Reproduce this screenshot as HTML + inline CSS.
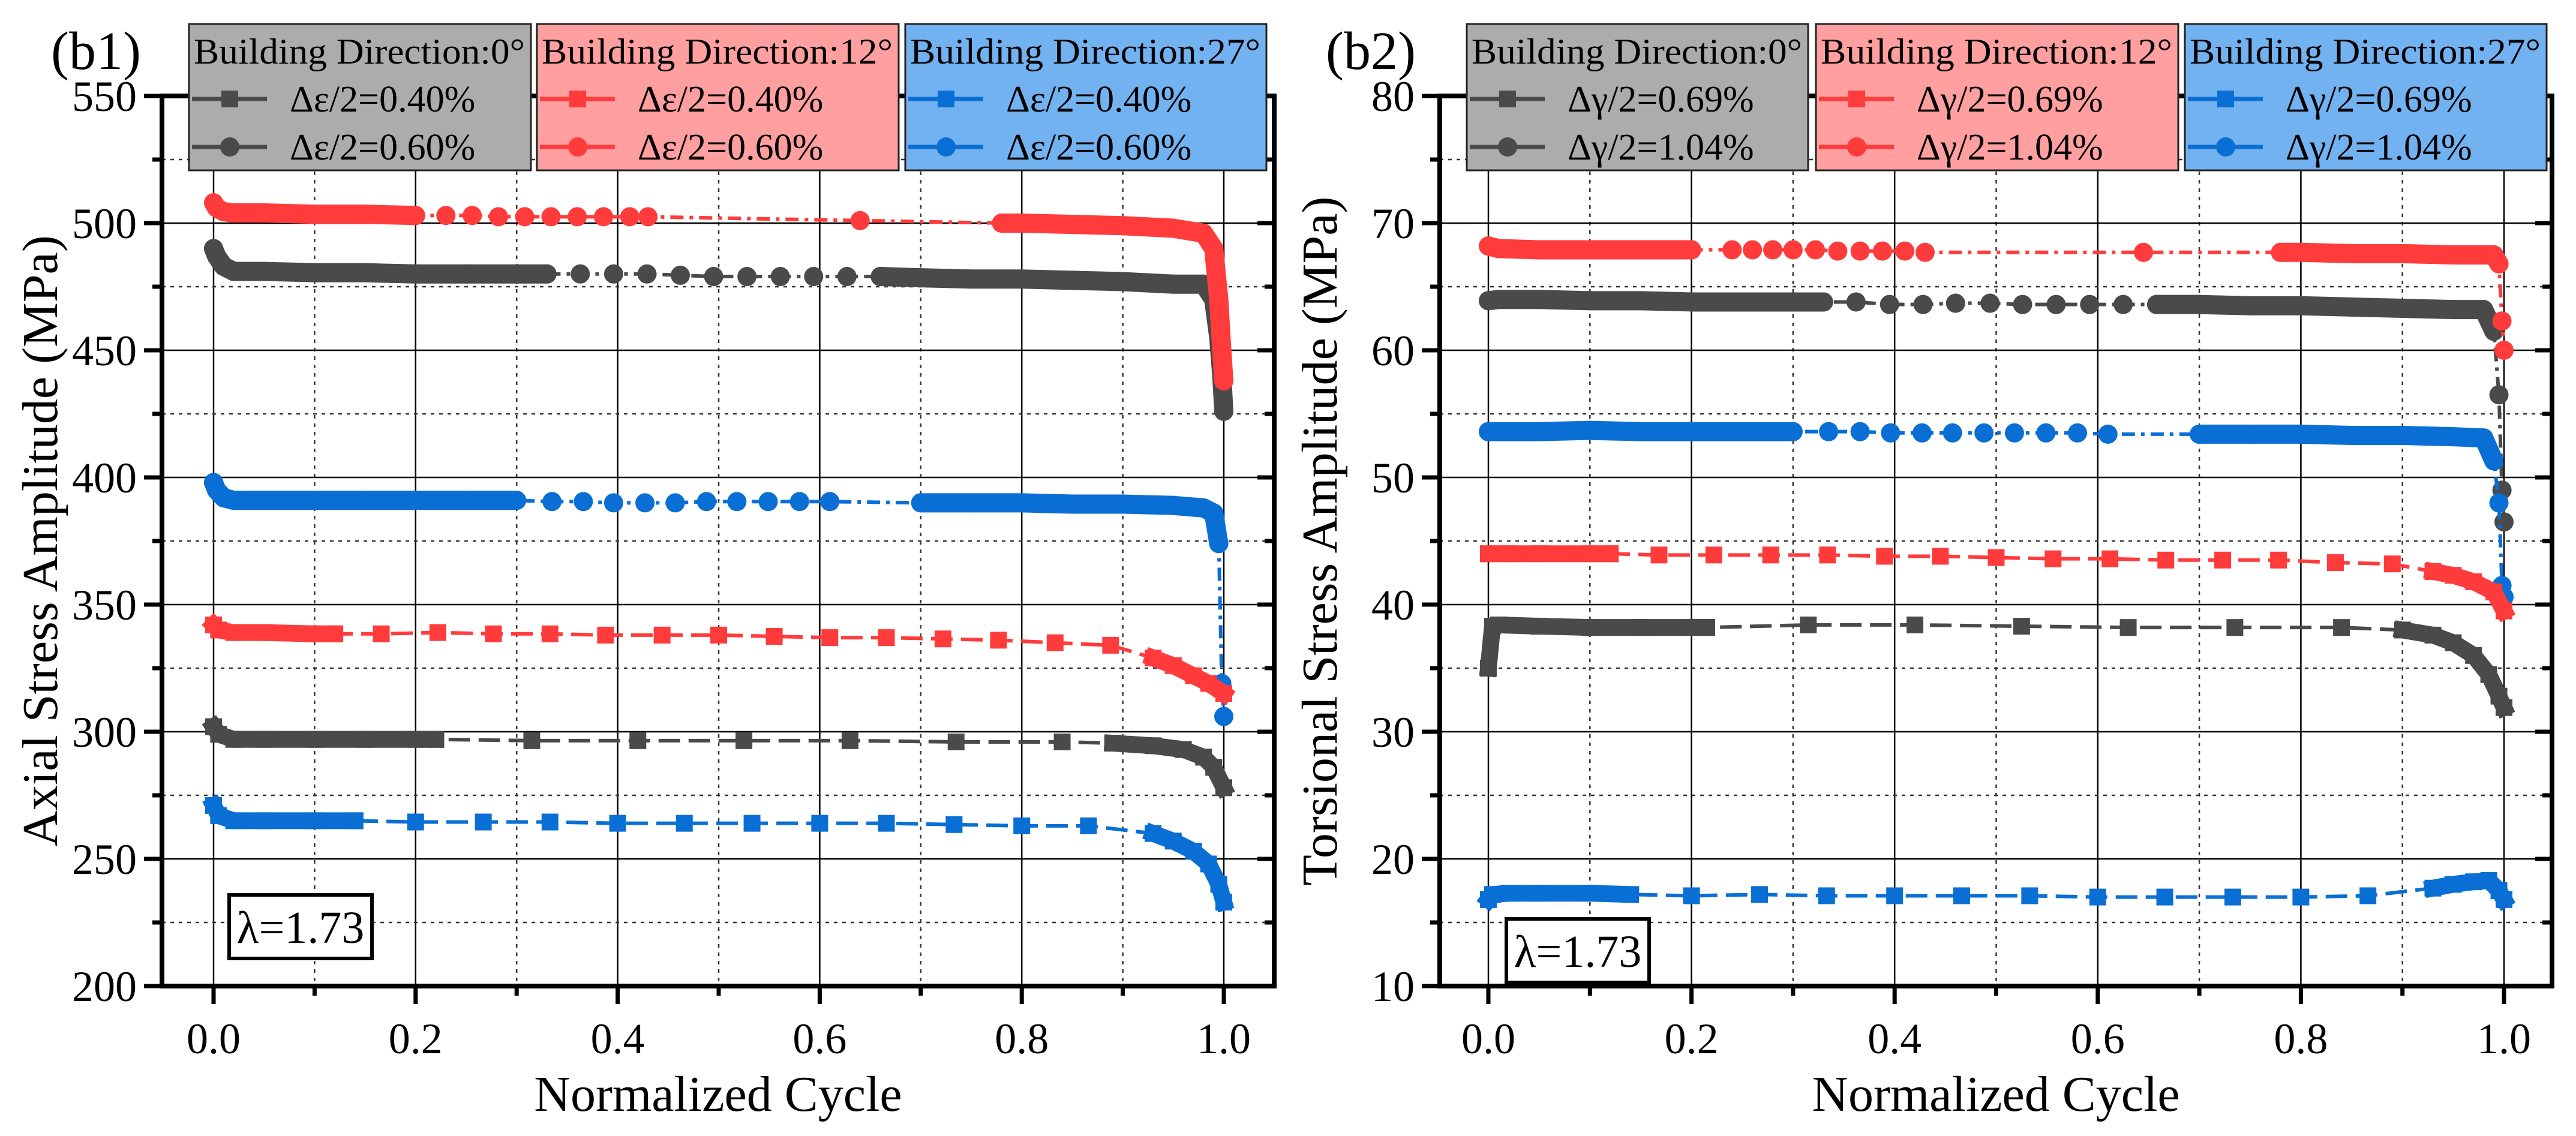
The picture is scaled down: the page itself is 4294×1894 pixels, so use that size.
<!DOCTYPE html>
<html><head><meta charset="utf-8">
<style>
html,body{margin:0;padding:0;background:#fff;}
svg{display:block;}
svg text{font-family:"Liberation Serif","DejaVu Serif",serif;}
</style></head>
<body>
<svg id="chart" width="4294" height="1894" viewBox="0 0 4294 1894" xmlns="http://www.w3.org/2000/svg" font-family="Liberation Serif, serif"></svg>
<script>
// ---------- data (b1) axial ----------
const b1GrayCircleX = [0.0,0.003,0.01,0.02,0.05,0.1,0.15,0.2,0.25,0.3,0.33,0.363,0.396,0.429,0.462,0.495,0.528,0.561,0.594,0.627,0.66,0.7,0.75,0.8,0.85,0.9,0.95,0.98,0.99,0.995,0.998,1.0];
const b1GrayCircleY = [490,487,483,481,481,480.5,480.5,480,480,480,480,480,480,480,479.5,479,479,479,479,479,479,478.5,478,478,477.5,477,476,476,470,455,440,426];
const b1GrayCircleBands = [[0,0.33],[0.66,1.0]];
const b1RedCircleX = [0.0,0.003,0.01,0.02,0.05,0.1,0.15,0.2,0.23,0.256,0.282,0.308,0.334,0.36,0.386,0.412,0.43,0.64,0.78,0.8,0.85,0.9,0.95,0.98,0.99,0.995,0.998,1.0];
const b1RedCircleY = [508,506,504.5,504,504,503.5,503.5,503,503,503,502.5,502.5,502.5,502.5,502.5,502.5,502.5,501,500,500,499.5,499,498,496,490,470,450,438];
const b1RedCircleBands = [[0,0.2],[0.78,1.0]];
const b1BlueCircleX = [0.0,0.003,0.01,0.02,0.05,0.1,0.15,0.2,0.25,0.3,0.335,0.366,0.396,0.427,0.457,0.488,0.518,0.549,0.58,0.61,0.7,0.75,0.8,0.85,0.9,0.95,0.98,0.99,0.995,0.998,1.0];
const b1BlueCircleY = [398,395,392,391,391,391,391,391,391,391,390.5,390.5,390,390,390,390.5,390.5,390.5,390.5,390.5,390,390,390,389.5,389.5,389,388,386,374,319,306];
const b1BlueCircleBands = [[0,0.3],[0.7,0.995]];
const b1RedSquareX = [0.0,0.005,0.02,0.05,0.1,0.12,0.166,0.222,0.277,0.333,0.388,0.444,0.5,0.555,0.61,0.666,0.722,0.777,0.833,0.888,0.93,0.95,0.97,0.985,1.0];
const b1RedSquareY = [342,340,339,339,338.5,338.5,338.5,339,338.5,338.5,338,338,338,337.5,337,337,336.5,336,335,334,329,326,322,319,315];
const b1RedSquareBands = [[0,0.12],[0.93,1.0]];
const b1GraySquareX = [0.0,0.005,0.02,0.05,0.1,0.15,0.2,0.22,0.315,0.42,0.525,0.63,0.735,0.84,0.89,0.93,0.96,0.98,0.99,1.0];
const b1GraySquareY = [302,299,297,297,297,297,297,297,296.5,296.5,296.5,296.5,296,296,295.5,294.5,293,290,286,278];
const b1GraySquareBands = [[0,0.22],[0.89,1.0]];
const b1BlueSquareX = [0.0,0.005,0.02,0.05,0.1,0.14,0.2,0.267,0.333,0.4,0.466,0.533,0.6,0.666,0.733,0.8,0.866,0.93,0.95,0.97,0.985,0.995,1.0];
const b1BlueSquareY = [271,267,265,265,265,265,264.5,264.5,264.5,264,264,264,264,264,263.5,263,263,260,257,253,248,240,233];
const b1BlueSquareBands = [[0,0.14],[0.93,1.0]];
// ---------- data (b2) torsional ----------
const b2RedCircleX = [0.0,0.01,0.05,0.1,0.15,0.2,0.24,0.26,0.28,0.3,0.322,0.344,0.366,0.388,0.41,0.43,0.645,0.78,0.8,0.85,0.9,0.95,0.99,0.995,0.998,1.0];
const b2RedCircleY = [68.2,68.0,67.9,67.9,67.9,67.9,67.9,67.9,67.9,67.9,67.9,67.8,67.8,67.8,67.8,67.7,67.7,67.7,67.7,67.6,67.6,67.5,67.5,66.8,62.3,60.0];
const b2RedCircleBands = [[0,0.2],[0.78,0.995]];
const b2GrayCircleX = [0.0,0.01,0.05,0.1,0.15,0.2,0.25,0.3,0.33,0.362,0.395,0.428,0.46,0.494,0.526,0.559,0.592,0.625,0.658,0.7,0.75,0.8,0.85,0.9,0.95,0.98,0.99,0.995,0.998,1.0];
const b2GrayCircleY = [63.9,64.0,64.0,63.9,63.9,63.8,63.8,63.8,63.8,63.8,63.6,63.6,63.7,63.7,63.6,63.6,63.6,63.6,63.6,63.6,63.5,63.5,63.4,63.3,63.2,63.2,61.5,56.5,49.0,46.5];
const b2GrayCircleBands = [[0,0.33],[0.658,0.99]];
const b2BlueCircleX = [0.0,0.01,0.05,0.1,0.15,0.2,0.25,0.3,0.335,0.366,0.396,0.427,0.457,0.488,0.518,0.549,0.58,0.61,0.7,0.75,0.8,0.85,0.9,0.95,0.98,0.99,0.995,0.998,1.0];
const b2BlueCircleY = [53.6,53.6,53.6,53.7,53.6,53.6,53.6,53.6,53.6,53.6,53.5,53.5,53.5,53.5,53.5,53.5,53.5,53.4,53.4,53.4,53.4,53.3,53.3,53.2,53.1,51.3,48.0,41.5,40.6];
const b2BlueCircleBands = [[0,0.3],[0.7,0.99]];
const b2RedSquareX = [0.0,0.02,0.05,0.1,0.12,0.168,0.222,0.278,0.334,0.39,0.445,0.5,0.556,0.612,0.667,0.723,0.778,0.834,0.89,0.93,0.95,0.97,0.99,1.0];
const b2RedSquareY = [44.0,44.0,44.0,44.0,44.0,43.9,43.9,43.9,43.9,43.8,43.8,43.7,43.6,43.6,43.5,43.5,43.5,43.3,43.2,42.6,42.3,41.8,41.0,39.5];
const b2RedSquareBands = [[0,0.12],[0.93,1.0]];
const b2GraySquareX = [0.0,0.004,0.01,0.05,0.1,0.15,0.2,0.215,0.315,0.42,0.525,0.63,0.735,0.84,0.9,0.93,0.95,0.97,0.985,0.995,1.0];
const b2GraySquareY = [35.0,38.3,38.4,38.3,38.2,38.2,38.2,38.2,38.4,38.4,38.3,38.2,38.2,38.2,38.0,37.6,37.0,36.0,34.5,32.8,31.9];
const b2GraySquareBands = [[0,0.215],[0.9,1.0]];
const b2BlueSquareX = [0.0,0.004,0.02,0.05,0.1,0.14,0.2,0.267,0.333,0.4,0.466,0.533,0.6,0.666,0.733,0.8,0.866,0.93,0.95,0.97,0.985,0.995,1.0];
const b2BlueSquareY = [16.8,17.2,17.3,17.3,17.3,17.2,17.1,17.2,17.1,17.1,17.1,17.1,17.0,17.0,17.0,17.0,17.1,17.7,18.0,18.2,18.3,17.5,16.8];
const b2BlueSquareBands = [[0,0.14],[0.93,1.0]];
const xTicks = [0.0,0.2,0.4,0.6,0.8,1.0];
const xTickLabels = ["0.0","0.2","0.4","0.6","0.8","1.0"];
const b1YTicks = [200,250,300,350,400,450,500,550];
const b2YTicks = [10,20,30,40,50,60,70,80];

const FONT = '"Liberation Serif", "DejaVu Serif", serif';
const COL = {gray:"#4a4a4a", red:"#ff3b3b", blue:"#0a6fd4"};
const BG = {gray:"#acacac", red:"#ff9f9f", blue:"#72b2f0"};
const NS = "http://www.w3.org/2000/svg";
const svg = document.getElementById('chart');
function mk(tag, attrs, parent){
  const e = document.createElementNS(NS, tag);
  for (const k in attrs) e.setAttribute(k, attrs[k]);
  if (tag==='text') e.setAttribute('font-family', FONT);
  (parent||svg).appendChild(e);
  return e;
}

function panel(cfg){
  const g = mk('g', {});
  
  
  const L=cfg.L, R=cfg.R, T=cfg.T, B=cfg.B;
  const xs = v => cfg.x0 + v*(cfg.x1-cfg.x0);
  const ys = v => cfg.yB + (v-cfg.ymin)/(cfg.ymax-cfg.ymin)*(cfg.yT-cfg.yB);
  const grid = mk('g', {}, g);
  
  
  for (let i=0;i<xTicks.length;i++){
    const x = xs(xTicks[i]);
    mk('line',{x1:x,x2:x,y1:T,y2:B,stroke:'#000','stroke-width':2.5},grid);
    if (i<xTicks.length-1){
      const xm = xs((xTicks[i]+xTicks[i+1])/2);
      mk('line',{x1:xm,x2:xm,y1:T,y2:B,stroke:'#333','stroke-width':2.5,'stroke-dasharray':'6 8'},grid);
    }
  }
  const yt = cfg.yticks;
  for (let i=0;i<yt.length;i++){
    const y = ys(yt[i]);
    mk('line',{x1:L,x2:R,y1:y,y2:y,stroke:'#000','stroke-width':2.5},grid);
    if (i<yt.length-1){
      const ym = ys((yt[i]+yt[i+1])/2);
      mk('line',{x1:L,x2:R,y1:ym,y2:ym,stroke:'#333','stroke-width':2.5,'stroke-dasharray':'6 8'},grid);
    }
  }
  cfg.series.forEach(s=>{
    const sg = mk('g', {}, g);
    
    
    const c = COL[s.color];
    const pts = s.x.map((v,i)=>[xs(v), ys(s.y[i])]);
    mk('polyline',{points:pts.map(p=>p.join(',')).join(' '),fill:'none',stroke:c,'stroke-width':6,
      'stroke-dasharray': s.shape==='circle' ? '22 10 6 10' : '36 14'},sg);
    s.bands.forEach(b=>{
      const bp = pts.filter((p,i)=>s.x[i]>=b[0]-1e-9 && s.x[i]<=b[1]+1e-9);
      if (bp.length>1){
        mk('polyline',{points:bp.map(p=>p.join(',')).join(' '),fill:'none',stroke:c,
          'stroke-width':s.shape==='circle'?32:28,'stroke-linecap':s.shape==='circle'?'round':'square','stroke-linejoin':'round'},sg);
      }
    });
    pts.forEach(p=>{
      let m;
      if (s.shape==='circle') m = mk('circle',{cx:p[0],cy:p[1],r:16,fill:c},sg);
      else m = mk('rect',{x:p[0]-14,y:p[1]-14,width:28,height:28,fill:c},sg);
      
      
    });
  });
  const fr = mk('rect',{x:L,y:T,width:R-L,height:B-T,fill:'none',stroke:'#000','stroke-width':8},g);
  
  
  const ax = mk('g',{},g);
  
  
  for (let i=0;i<xTicks.length;i++){
    const x = xs(xTicks[i]);
    mk('line',{x1:x,x2:x,y1:B,y2:B+30,stroke:'#000','stroke-width':7},ax);
    mk('line',{x1:x,x2:x,y1:T,y2:T+28,stroke:'#000','stroke-width':7},ax);
    if (i<xTicks.length-1){
      const xm = xs((xTicks[i]+xTicks[i+1])/2);
      mk('line',{x1:xm,x2:xm,y1:B,y2:B+16,stroke:'#000','stroke-width':7},ax);
      mk('line',{x1:xm,x2:xm,y1:T,y2:T+16,stroke:'#000','stroke-width':7},ax);
    }
    const t = mk('text',{x:x,y:B+112,'text-anchor':'middle','font-size':72},ax);
    t.textContent = xTickLabels[i];
    
    
  }
  const xt = mk('text',{x:(L+R)/2,y:B+208,'text-anchor':'middle','font-size':84},ax);
  xt.textContent = 'Normalized Cycle';
  
  
  const ay = mk('g',{},g);
  
  
  for (let i=0;i<yt.length;i++){
    const y = ys(yt[i]);
    mk('line',{x1:L-30,x2:L,y1:y,y2:y,stroke:'#000','stroke-width':7},ay);
    mk('line',{x1:R-28,x2:R,y1:y,y2:y,stroke:'#000','stroke-width':7},ay);
    if (i<yt.length-1){
      const ym = ys((yt[i]+yt[i+1])/2);
      mk('line',{x1:L-16,x2:L,y1:ym,y2:ym,stroke:'#000','stroke-width':7},ay);
      mk('line',{x1:R-16,x2:R,y1:ym,y2:ym,stroke:'#000','stroke-width':7},ay);
    }
    const t = mk('text',{x:L-42,y:y+25,'text-anchor':'end','font-size':72},ay);
    t.textContent = String(yt[i]);
    
    
  }
  const ytt = mk('text',{x:0,y:0,'text-anchor':'middle','font-size':84,transform:`translate(${cfg.ytx},${(T+B)/2}) rotate(-90)`},ay);
  ytt.textContent = cfg.ytitle;
  
  
  const pl = mk('text',{x:cfg.plx,y:115,'font-size':90},g);
  pl.textContent = cfg.plabel;
  
  
  cfg.legend.forEach(lb=>{
    const lg = mk('g',{},g);
    
    
    mk('rect',{x:lb.x,y:40,width:lb.w,height:244,fill:BG[lb.color],stroke:'#222','stroke-width':3},lg);
    const tt = mk('text',{x:lb.x+8,y:106,'font-size':60,textLength:lb.w-18,lengthAdjust:'spacingAndGlyphs'},lg);
    tt.textContent = lb.title;
    
    
    [['square',lb.l1,165],['circle',lb.l2,245]].forEach(([shape,label,cy])=>{
      const c = COL[lb.color];
      mk('line',{x1:lb.x+5,x2:lb.x+130,y1:cy,y2:cy,stroke:c,'stroke-width':7},lg);
      if (shape==='circle') mk('circle',{cx:lb.x+68,cy:cy,r:16,fill:c},lg);
      else mk('rect',{x:lb.x+54,y:cy-14,width:28,height:28,fill:c},lg);
      const et = mk('text',{x:lb.x+168,y:cy+21,'font-size':62},lg);
      et.textContent = label;
      
      
    });
  });
  const lbx = mk('g',{},g);
  
  
  mk('rect',{x:cfg.lam[0],y:cfg.lam[1],width:238,height:106,fill:'#fff',stroke:'#000','stroke-width':6},lbx);
  const lt = mk('text',{x:cfg.lam[0]+119,y:cfg.lam[1]+80,'text-anchor':'middle','font-size':76},lbx);
  lt.textContent = 'λ=1.73';
}

panel({name:'panel-b1-axial', L:270,R:2124,T:160,B:1644, x0:356,x1:2040, ymin:200,ymax:550,yB:1644,yT:160,
  yticks:b1YTicks, ytitle:'Axial Stress Amplitude (MPa)', ytx:95, plabel:'(b1)', plx:85, lam:[382,1492],
  legend:[
    {color:'gray',x:315,w:570,title:'Building Direction:0°',l1:'Δε/2=0.40%',l2:'Δε/2=0.60%'},
    {color:'red',x:895,w:603,title:'Building Direction:12°',l1:'Δε/2=0.40%',l2:'Δε/2=0.60%'},
    {color:'blue',x:1509,w:602,title:'Building Direction:27°',l1:'Δε/2=0.40%',l2:'Δε/2=0.60%'}],
  series:[
    {name:'series-0deg-0.60',color:'gray',shape:'circle',x:b1GrayCircleX,y:b1GrayCircleY,bands:b1GrayCircleBands},
    {name:'series-27deg-0.60',color:'blue',shape:'circle',x:b1BlueCircleX,y:b1BlueCircleY,bands:b1BlueCircleBands},
    {name:'series-12deg-0.60',color:'red',shape:'circle',x:b1RedCircleX,y:b1RedCircleY,bands:b1RedCircleBands},
    {name:'series-12deg-0.40',color:'red',shape:'square',x:b1RedSquareX,y:b1RedSquareY,bands:b1RedSquareBands},
    {name:'series-0deg-0.40',color:'gray',shape:'square',x:b1GraySquareX,y:b1GraySquareY,bands:b1GraySquareBands},
    {name:'series-27deg-0.40',color:'blue',shape:'square',x:b1BlueSquareX,y:b1BlueSquareY,bands:b1BlueSquareBands}]
});
panel({name:'panel-b2-torsional', L:2400,R:4254,T:160,B:1644, x0:2481,x1:4174, ymin:10,ymax:80,yB:1644,yT:160,
  yticks:b2YTicks, ytitle:'Torsional Stress Amplitude (MPa)', ytx:2228, plabel:'(b2)', plx:2210, lam:[2511,1532],
  legend:[
    {color:'gray',x:2445,w:569,title:'Building Direction:0°',l1:'Δγ/2=0.69%',l2:'Δγ/2=1.04%'},
    {color:'red',x:3027,w:604,title:'Building Direction:12°',l1:'Δγ/2=0.69%',l2:'Δγ/2=1.04%'},
    {color:'blue',x:3642,w:603,title:'Building Direction:27°',l1:'Δγ/2=0.69%',l2:'Δγ/2=1.04%'}],
  series:[
    {name:'series-0deg-1.04',color:'gray',shape:'circle',x:b2GrayCircleX,y:b2GrayCircleY,bands:b2GrayCircleBands},
    {name:'series-27deg-1.04',color:'blue',shape:'circle',x:b2BlueCircleX,y:b2BlueCircleY,bands:b2BlueCircleBands},
    {name:'series-12deg-1.04',color:'red',shape:'circle',x:b2RedCircleX,y:b2RedCircleY,bands:b2RedCircleBands},
    {name:'series-12deg-0.69',color:'red',shape:'square',x:b2RedSquareX,y:b2RedSquareY,bands:b2RedSquareBands},
    {name:'series-0deg-0.69',color:'gray',shape:'square',x:b2GraySquareX,y:b2GraySquareY,bands:b2GraySquareBands},
    {name:'series-27deg-0.69',color:'blue',shape:'square',x:b2BlueSquareX,y:b2BlueSquareY,bands:b2BlueSquareBands}]
});
</script>
</body></html>
